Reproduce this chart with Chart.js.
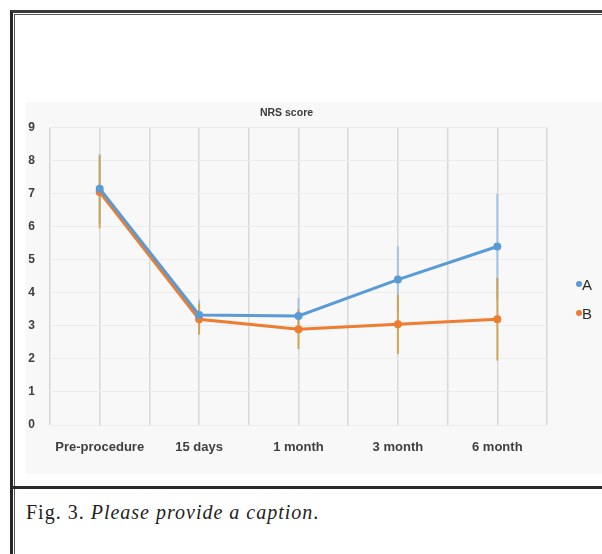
<!DOCTYPE html>
<html>
<head>
<meta charset="utf-8">
<script src="https://cdn.jsdelivr.net/npm/chart.js@4/dist/chart.umd.min.js"></script>
<style>
  body { margin: 0; background: #fff; }
  #page { position: relative; width: 602px; height: 554px; overflow: hidden; background: #fff; }
  .frame-outer { position: absolute; left: 10px; top: 10px; width: 620px; height: 600px;
    border-left: 3px solid #262626; border-top: 3px solid #3a3a3a; }
  .frame-inner { position: absolute; left: 14px; top: 14px; width: 620px; height: 600px;
    border-left: 1.5px solid #555; border-top: 1.5px solid #555; }
  .sep { position: absolute; left: 12px; top: 486px; width: 600px; height: 3px; background: #2a2a2a; }
  #chart-wrap { position: absolute; left: 26px; top: 102px; width: 576px; height: 372px; background: #f8f8f8; }
  .legend-item { position: absolute; font: 15px "Liberation Sans", Arial, sans-serif; color: #2a2a2a; }
  .legend-item .dot { display: inline-block; width: 6px; height: 6px; border-radius: 50%; margin-right: 0; vertical-align: 3px; }
  #caption { position: absolute; left: 26px; top: 501px; font: 20px "Liberation Serif", "DejaVu Serif", serif;
    letter-spacing: 1px; color: #222; }
</style>
</head>
<body>
<div id="page">
  <div class="frame-outer"></div>
  <div class="frame-inner"></div>
  <div id="chart-wrap"><canvas id="nrs-chart" width="576" height="372"></canvas></div>
  <div class="legend-item" style="left:576px;top:276px"><span class="dot" style="background:#5b9bd5"></span>A</div>
  <div class="legend-item" style="left:576px;top:305px"><span class="dot" style="background:#ed7d31"></span>B</div>
  <div class="sep"></div>
  <div id="caption">Fig. 3. <i>Please provide a caption</i>.</div>
</div>
<script>
// ─── Daten ──────────────────────────────────────────────────────────────────

const categories = ['Pre-procedure', '15 days', '1 month', '3 month', '6 month'];
const seriesA = [7.15, 3.33, 3.3, 4.4, 5.4];
const seriesB = [7.05, 3.2, 2.9, 3.05, 3.2];
const errA = [1.05, 0.45, 0.55, 1.0, 1.6];
const errB = [1.1, 0.47, 0.6, 0.9, 1.25];
const yTicks = [0, 1, 2, 3, 4, 5, 6, 7, 8, 9];

const COLOR_A = '#5b9bd5';
const COLOR_B = '#ed7d31';

// ─── Fehlerbalken-Plugin ────────────────────────────────────────────────────

const errorBars = {
  id: 'errorBars',
  beforeDatasetsDraw(chart) {
    const { ctx, scales: { x, y } } = chart;
    chart.data.datasets.forEach(ds => {
      ctx.save();
      ctx.strokeStyle = ds.errColor;
      ctx.lineWidth = 2;
      ds.data.forEach((p, i) => {
        const px = x.getPixelForValue(p.x);
        ctx.beginPath();
        ctx.moveTo(px, y.getPixelForValue(p.y - ds.err[i]));
        ctx.lineTo(px, y.getPixelForValue(p.y + ds.err[i]));
        ctx.stroke();
      });
      ctx.restore();
    });
  }
};

const toPoints = vals => vals.map((v, i) => ({ x: i, y: v }));

const tickFont = { family: '"Liberation Sans", Arial, sans-serif', size: 12, weight: 'bold' };

new Chart(document.getElementById('nrs-chart'), {
  type: 'line',
  data: {
    datasets: [
      {
        label: 'A', data: toPoints(seriesA), err: errA, errColor: 'rgba(157,195,230,0.95)',
        borderColor: COLOR_A, backgroundColor: COLOR_A, borderWidth: 3,
        pointRadius: 4, pointBorderWidth: 0, tension: 0,
      },
      {
        label: 'B', data: toPoints(seriesB), err: errB, errColor: 'rgba(206,162,72,0.9)',
        borderColor: COLOR_B, backgroundColor: COLOR_B, borderWidth: 3,
        pointRadius: 4, pointBorderWidth: 0, tension: 0,
      },
    ],
  },
  options: {
    responsive: false,
    animation: false,
    layout: { padding: { right: 55, left: 0, bottom: 0 } },
    plugins: {
      legend: { display: false },
      tooltip: { enabled: false },
      title: {
        display: true, text: 'NRS score', color: '#3a3a3a',
        font: { family: '"Liberation Sans", Arial, sans-serif', size: 10.5, lineHeight: 1.1 },
        padding: { top: 5, bottom: 9 },
      },
    },
    scales: {
      x: {
        type: 'linear', min: -0.5, max: 4.5,
        afterFit: s => { s.height = 49; },
        border: { display: false },
        grid: { color: '#d8d8d8', lineWidth: 1.5, drawTicks: false },
        ticks: {
          stepSize: 0.5, autoSkip: false, maxRotation: 0, padding: 15,
          color: '#404040', font: { ...tickFont, size: 13 },
          callback: v => Number.isInteger(v) ? categories[v] : '',
        },
      },
      y: {
        min: 0, max: 9,
        afterFit: s => { s.width = 24; },
        afterBuildTicks: s => { s.ticks = yTicks.map(v => ({ value: v })); },
        border: { display: false },
        grid: { color: '#ececec', lineWidth: 1, drawTicks: false },
        ticks: { padding: 15, color: '#404040', font: tickFont },
      },
    },
  },
  plugins: [errorBars],
});
</script>
</body>
</html>
